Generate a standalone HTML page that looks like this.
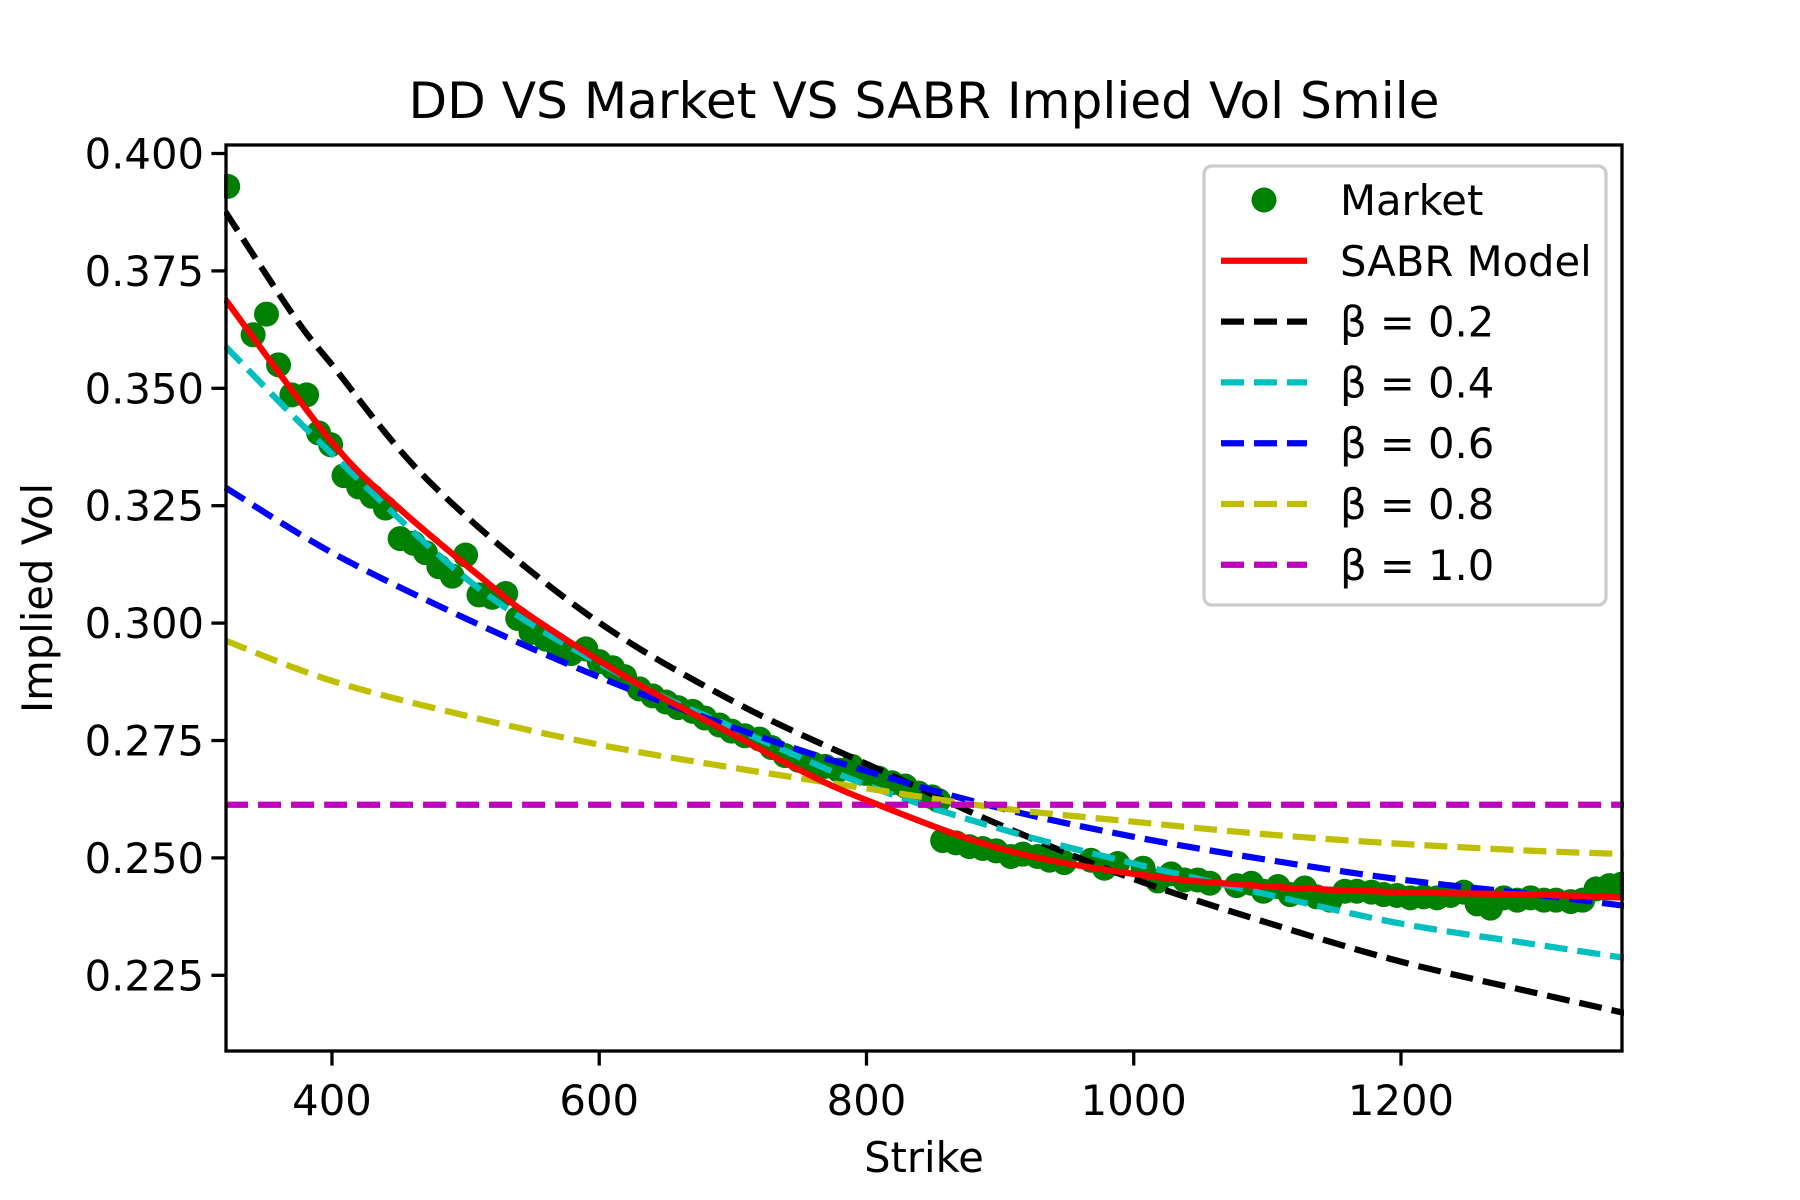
<!DOCTYPE html>
<html><head><meta charset="utf-8"><style>
html,body{margin:0;padding:0;background:#fff;}
svg{display:block;font-family:"DejaVu Sans","Liberation Sans",sans-serif;}
</style></head><body>
<svg id="chart" width="1800" height="1200" viewBox="0 0 1800 1200">
<rect width="1800" height="1200" fill="#fff"/>
<text x="924" y="118" font-size="50.2" text-anchor="middle">DD VS Market VS SABR Implied Vol Smile</text>
<text x="924" y="1172" font-size="41.7" text-anchor="middle">Strike</text>
<text x="0" y="0" font-size="41.7" text-anchor="middle" transform="translate(52,598) rotate(-90)">Implied Vol</text>
<g id="plot"></g>
<g id="axes"></g>
<g id="legend"></g>
</svg>
<script>
const marketK=[322,341,351,360,370,381,390,399,409,420,430,440,451,461,470,480,490,500,510,520,530,539,549,560,569,579,590,600,610,619,630,640,650,659,670,679,690,699,709,720,729,739,749,760,769,779,789,799,809,819,829,839,849,854,857,867,877,887,897,908,917,928,937,948,968,978,988,1007,1018,1028,1038,1048,1057,1077,1088,1097,1108,1117,1128,1137,1147,1158,1167,1178,1187,1197,1207,1217,1227,1237,1247,1257,1267,1277,1287,1297,1307,1316,1327,1336,1346,1356,1365];
const marketV=[0.393,0.3614,0.3658,0.355,0.3486,0.3486,0.3405,0.338,0.3314,0.329,0.327,0.3245,0.318,0.317,0.315,0.312,0.310,0.3145,0.306,0.3055,0.3063,0.301,0.298,0.2966,0.295,0.2935,0.2945,0.2918,0.2905,0.2886,0.286,0.2845,0.2832,0.282,0.2812,0.2798,0.2783,0.277,0.276,0.2753,0.2735,0.2718,0.2708,0.270,0.2695,0.2687,0.2695,0.268,0.267,0.266,0.2653,0.2638,0.263,0.2622,0.2537,0.2532,0.2524,0.252,0.2515,0.2503,0.2508,0.2503,0.2495,0.249,0.2495,0.2478,0.2488,0.2478,0.2451,0.2466,0.2453,0.2453,0.2446,0.2441,0.2446,0.2429,0.2439,0.2422,0.2436,0.2417,0.241,0.2429,0.2429,0.2427,0.2422,0.242,0.2415,0.2417,0.2415,0.242,0.2427,0.2402,0.2393,0.2415,0.241,0.2415,0.241,0.241,0.2407,0.241,0.2434,0.2441,0.2444];
const sabrK=[320,400,450,513,550,628,700,750,800,900,1000,1100,1200,1300,1370];
const sabrV=[0.369,0.3385,0.3245,0.3094,0.3012,0.2872,0.2763,0.2687,0.2623,0.252,0.2466,0.2439,0.2427,0.2422,0.2415];
const b02K=[320,370,400,474,589,704,818,900,1000,1100,1200,1300,1370];
const beta02=[0.3877,0.366,0.355,0.3298,0.3023,0.2828,0.2677,0.257,0.2455,0.2362,0.2279,0.2213,0.2168];
const b04K=[320,400,513,628,700,800,900,1000,1100,1200,1300,1370];
const beta04=[0.359,0.336,0.3067,0.2872,0.2778,0.2655,0.2562,0.2488,0.2422,0.236,0.2316,0.2286];
const b06K=[320,400,500,600,700,800,900,1000,1100,1200,1300,1370];
const beta06=[0.3289,0.315,0.301,0.2885,0.2778,0.2685,0.2606,0.2545,0.2496,0.2454,0.2422,0.2397];
const curveK=[320,400,500,600,700,800,900,1000,1100,1200,1300,1370];
const beta08=[0.2963,0.2877,0.2803,0.2741,0.2692,0.2648,0.2606,0.2577,0.255,0.253,0.2515,0.2508];
const beta10=[0.2613,0.2613,0.2613,0.2613,0.2613,0.2613,0.2613,0.2613,0.2613,0.2613,0.2613,0.2613];
const xTicks=[400,600,800,1000,1200];
const yTicks=[0.225,0.250,0.275,0.300,0.325,0.350,0.375,0.400];
const legendLabels=["Market","SABR Model","β = 0.2","β = 0.4","β = 0.6","β = 0.8","β = 1.0"];

const NS="http://www.w3.org/2000/svg";
const L=226,R=1622,T=145,B=1051;
const xMin=320.7,xMax=1365.4;
function sx(k){return L+(k-xMin)/(xMax-xMin)*(R-L);}
function sy(v){return 153.5+(0.4-v)/0.025*117.4;}
function mk(tag,attrs,parent){const e=document.createElementNS(NS,tag);for(const a in attrs)e.setAttribute(a,attrs[a]);parent.appendChild(e);return e;}
const plot=document.getElementById('plot'),axes=document.getElementById('axes'),leg=document.getElementById('legend');
const defs=mk('defs',{},plot);
const cp=mk('clipPath',{id:'clip'},defs);
mk('rect',{x:L-2,y:T,width:R-L+4,height:B-T},cp);
const g=mk('g',{'clip-path':'url(#clip)'},plot);
const dash='23 10';
for(let i=0;i<marketK.length;i++){
  const c=mk('circle',{cx:sx(marketK[i]),cy:sy(marketV[i]),r:12.5,fill:'#008000'},g);
  
  
}
function smoothPath(ks,vs){
  const p=ks.map((k,i)=>[sx(k),sy(vs[i])]);
  let d='M'+p[0][0].toFixed(1)+','+p[0][1].toFixed(1);
  for(let i=0;i<p.length-1;i++){
    const p0=p[i-1]||p[i],p1=p[i],p2=p[i+1],p3=p[i+2]||p2;
    const c1=[p1[0]+(p2[0]-p0[0])/6,p1[1]+(p2[1]-p0[1])/6];
    const c2=[p2[0]-(p3[0]-p1[0])/6,p2[1]-(p3[1]-p1[1])/6];
    d+=' C'+c1[0].toFixed(1)+','+c1[1].toFixed(1)+' '+c2[0].toFixed(1)+','+c2[1].toFixed(1)+' '+p2[0].toFixed(1)+','+p2[1].toFixed(1);
  }
  return d;
}
function line(ks,vs,color,d,name){
  const p=mk('path',{d:smoothPath(ks,vs),fill:'none',stroke:color,'stroke-width':6.25,'stroke-linejoin':'round'},g);
  if(d)p.setAttribute('stroke-dasharray',d);
  
  
}
line(b02K,beta02,'#000000',dash,'beta-0.2-line');
line(b04K,beta04,'#00bfbf',dash,'beta-0.4-line');
line(b06K,beta06,'#0000ff',dash,'beta-0.6-line');
line(curveK,beta08,'#bfbf00',dash,'beta-0.8-line');
line(curveK,beta10,'#bf00bf',dash,'beta-1.0-line');
line(sabrK,sabrV,'#ff0000',null,'sabr-model-line');
const fr=mk('rect',{x:L,y:T,width:R-L,height:B-T,fill:'none',stroke:'#000','stroke-width':3.3},axes);


xTicks.forEach(t=>{
  const x=sx(t);
  mk('line',{x1:x,x2:x,y1:B,y2:B+14.6,stroke:'#000','stroke-width':3.3},axes);
  const tx=mk('text',{x:x,y:1115,'font-size':41.7,'text-anchor':'middle'},axes);
  tx.textContent=t;
  
  
});
yTicks.forEach(t=>{
  const y=sy(t);
  mk('line',{x1:L-14.6,x2:L,y1:y,y2:y,stroke:'#000','stroke-width':3.3},axes);
  const tx=mk('text',{x:L-22,y:y+15,'font-size':41.7,'text-anchor':'end'},axes);
  tx.textContent=t.toFixed(3);
  
  
});
const lb=mk('rect',{x:1204,y:166,width:402,height:439,rx:8,fill:'#fff','fill-opacity':0.8,stroke:'#cccccc','stroke-width':3.3},leg);


const lColors=['#008000','#ff0000','#000000','#00bfbf','#0000ff','#bfbf00','#bf00bf'];
legendLabels.forEach((lab,i)=>{
  const y=200+i*60.8;
  const ge=mk('g',{},leg);
  
  
  if(i===0)mk('circle',{cx:1264,cy:y,r:12.5,fill:lColors[0]},ge);
  else{
    const ln=mk('line',{x1:1221,x2:1307,y1:y,y2:y,stroke:lColors[i],'stroke-width':6.25},ge);
    if(i>1)ln.setAttribute('stroke-dasharray',dash);
  }
  const tx=mk('text',{x:1340,y:y+15,'font-size':41.7},ge);
  tx.textContent=lab;
});
</script>
</body></html>
